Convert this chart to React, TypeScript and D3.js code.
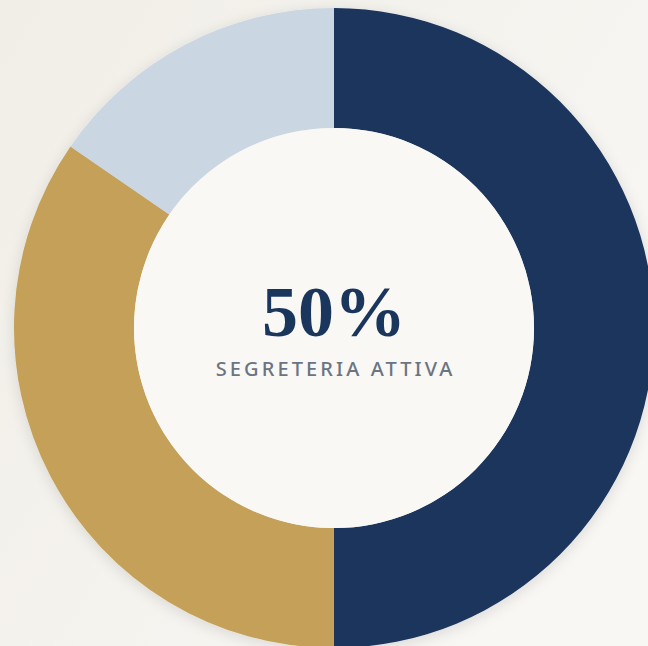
import React from "react";
import * as d3 from "d3";

const labels = ["Segreteria attiva", "Segreteria parziale", "Nessuna segreteria"];
const values = [50, 34.6, 15.4];
const colors = ["#1b365d", "#c4a058", "#cbd6e3"];

const centerValue = "50%";
const centerLabel = "SEGRETERIA ATTIVA";

const W = 648;
const H = 646;

export default function App() {
  const cx = 334;
  const cy = 328;
  const outer = 320;
  const inner = 200;

  const pie = d3.pie<number>().sort(null).value((d) => d);
  const arc = d3.arc<d3.PieArcDatum<number>>().outerRadius(outer).innerRadius(inner);
  const slices = pie(values);

  return (
    <svg
      width={W}
      height={H}
      style={{ position: "fixed", left: 0, top: 0, display: "block" }}
    >
      <defs>
        <linearGradient id="bg" x1="0" y1="0" x2="1" y2="0.6">
          <stop offset="0" stopColor="#f1eee7" />
          <stop offset="1" stopColor="#f8f7f4" />
        </linearGradient>
        <filter id="shadow" x="-20%" y="-20%" width="140%" height="140%">
          <feDropShadow dx="0" dy="3" stdDeviation="7" floodColor="#000" floodOpacity="0.12" />
        </filter>
      </defs>
      <rect width={W} height={H} fill="url(#bg)" />
      <g transform={`translate(${cx},${cy})`}>
        <g filter="url(#shadow)">
          {slices.map((s, i) => (
            <path key={labels[i]} d={arc(s) || ""} fill={colors[i]} />
          ))}
        </g>
        <circle r={inner} fill="#f9f8f5" />
        <text
          y={8}
          textAnchor="middle"
          fontFamily="'Liberation Serif', serif"
          fontWeight={700}
          fontSize={72}
          fill="#1b365d"
        >
          {centerValue}
        </text>
        <text
          x={1.6}
          y={48}
          textAnchor="middle"
          fontFamily="'Noto Sans', sans-serif"
          fontSize={20}
          fontWeight={500}
          letterSpacing={3.1}
          fill="#6b7482"
        >
          {centerLabel}
        </text>
      </g>
    </svg>
  );
}
